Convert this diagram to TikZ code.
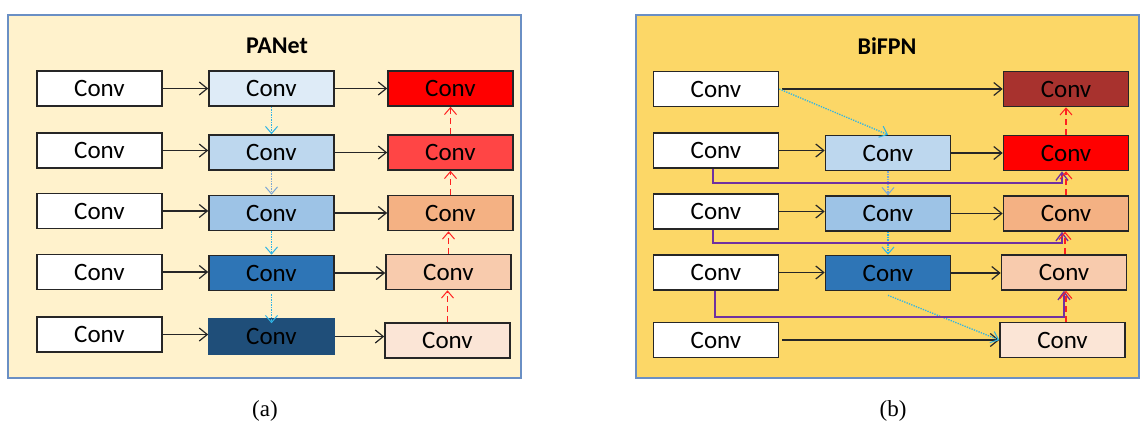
\documentclass[tikz,border=0pt]{standalone}
\usepackage{fontspec}
\setmainfont{Carlito}
\newfontfamily\capfont{Liberation Serif}
\usetikzlibrary{arrows.meta,calc}

\definecolor{frameblue}{HTML}{6A8FC4}
\definecolor{panbg}{HTML}{FFF2CC}
\definecolor{bifbg}{HTML}{FCD767}
\definecolor{edge}{HTML}{262626}
\definecolor{bA}{HTML}{DEEBF7}
\definecolor{bB}{HTML}{BDD7EE}
\definecolor{bC}{HTML}{9DC3E6}
\definecolor{bD}{HTML}{2E75B6}
\definecolor{bE}{HTML}{1F4E79}
\definecolor{rA}{HTML}{FF0000}
\definecolor{rB}{HTML}{FF4545}
\definecolor{rC}{HTML}{F4B183}
\definecolor{rD}{HTML}{F8CBAD}
\definecolor{rE}{HTML}{FBE5D6}
\definecolor{rTop}{HTML}{A8322E}
\definecolor{cyanline}{HTML}{2EB4E6}
\definecolor{greyblue}{HTML}{7DA8D4}
\definecolor{purp}{HTML}{7030A0}
\definecolor{dashred}{HTML}{FF2020}

\tikzset{
  convbox/.style={draw=edge, line width=1.6pt, minimum width=125pt, minimum height=35pt,
    inner sep=0pt, font=\fontsize{25}{30}\selectfont, text=black},
  tip/.style={-{Straight Barb[length=8pt,width=13pt,line width=1.2pt]}},
  flow/.style={tip, draw=edge, line width=1.5pt},
  down/.style={-{Straight Barb[length=7pt,width=12pt,line width=1pt]}, draw=cyanline,
    line width=1.3pt, dash pattern=on 1.3pt off 1.2pt},
  downgrey/.style={down, draw=greyblue},
  up/.style={-{Straight Barb[length=7pt,width=12pt,line width=1pt]}, draw=dashred,
    line width=1.4pt, dash pattern=on 6pt off 4pt},
  skip/.style={-{Straight Barb[length=8pt,width=12pt,line width=1.3pt]}, draw=purp,
    line width=1.6pt},
  panel/.style={draw=frameblue, line width=1.5pt},
  title/.style={font=\fontsize{24}{29}\selectfont\bfseries},
  caption/.style={font=\capfont\fontsize{23}{26}\selectfont}
}

\begin{document}
\begin{tikzpicture}[x=1pt,y=-1pt]
\useasboundingbox (0,0) rectangle (1140,424);

% ---------------- PANet ----------------
\draw[panel, fill=panbg] (8,15) rectangle (521,378);
\node[title] (ptitle) at (277,46) {PANet};

\node[convbox, fill=white] (p11) at (99.5,88.5) {Conv};
\node[convbox, fill=white] (p21) at (99.5,150.5) {Conv};
\node[convbox, fill=white] (p31) at (99.5,211) {Conv};
\node[convbox, fill=white] (p41) at (99.5,272) {Conv};
\node[convbox, fill=white] (p51) at (99.5,334.5) {Conv};

\node[convbox, fill=bA] (p12) at (271.5,88.5) {Conv};
\node[convbox, fill=bB] (p22) at (271.5,152.5) {Conv};
\node[convbox, fill=bC] (p32) at (271.5,213) {Conv};
\node[convbox, fill=bD] (p42) at (271.5,273) {Conv};
\node[convbox, fill=bE, draw=bE] (p52) at (271.5,336.5) {Conv};

\node[convbox, fill=rA] (p13) at (450.5,88.5) {Conv};
\node[convbox, fill=rB] (p23) at (450.5,152.5) {Conv};
\node[convbox, fill=rC] (p33) at (450.5,213) {Conv};
\node[convbox, fill=rD] (p43) at (448.5,272) {Conv};
\node[convbox, fill=rE] (p53) at (447.5,340.5) {Conv};

% lateral connections
\foreach \r in {1,...,5}{
  \draw[flow] (p\r1.east) -- (p\r1.east -| p\r2.west);
  \draw[flow] (p\r2.east) -- (p\r2.east -| p\r3.west);
}

% top-down path
\draw[down] (p12.south) -- (p22.north);
\draw[downgrey] (p22.south) -- (p32.north);
\draw[down] (p32.south) -- (p42.north);
\draw[down] ([yshift=-3pt]p42.south) -- ([yshift=-5pt]p52.north);

% bottom-up path
\draw[up] (p53.north) -- (p53.north |- p43.south);
\draw[up] (p43.north) -- (p43.north |- p33.south);
\draw[up] (p33.north) -- (p33.north |- p23.south);
\draw[up] (p23.north) -- (p23.north |- p13.south);

\node[caption] (capa) at (265,411) {(a)};

% ---------------- BiFPN ----------------
\draw[panel, fill=bifbg] (636,15) rectangle (1139,378);
\node[title] (btitle) at (887,46) {BiFPN};

\node[convbox, fill=white] (b11) at (716,89) {Conv};
\node[convbox, fill=white] (b21) at (716,150.5) {Conv};
\node[convbox, fill=white] (b31) at (716,211.5) {Conv};
\node[convbox, fill=white] (b41) at (716,272.5) {Conv};
\node[convbox, fill=white] (b51) at (716,340) {Conv};

\node[convbox, fill=bB] (b22) at (888,153) {Conv};
\node[convbox, fill=bC] (b32) at (888,213.5) {Conv};
\node[convbox, fill=bD] (b42) at (888,273) {Conv};

\node[convbox, fill=rTop] (b13) at (1066,89) {Conv};
\node[convbox, fill=rA] (b23) at (1066,153) {Conv};
\node[convbox, fill=rC] (b33) at (1066,213.5) {Conv};
\node[convbox, fill=rD] (b43) at (1064,272.5) {Conv};
\node[convbox, fill=rE] (b53) at (1062.5,340) {Conv};

% lateral connections
\draw[flow, shorten <=3pt] (b11.east) -- (b11.east -| b13.west);
\foreach \r in {2,3,4}{
  \draw[flow] (b\r1.east) -- (b\r1.east -| b\r2.west);
  \draw[flow] (b\r2.east) -- (b\r2.east -| b\r3.west);
}
\draw[flow, shorten <=3pt] (b51.east) -- (b51.east -| b53.west);

% top-down path
\draw[down] (b11.east) -- (b22.north);
\draw[downgrey] (b22.south) -- (b32.north);
\draw[down] (b32.south) -- (b42.north);
\draw[down] ([yshift=-4pt]b42.south) -- (b53.west);

% skip connections from the inputs
\draw[skip] ([xshift=-3pt]b21.south) -- ++(0,14) -| ([xshift=-4pt]b23.south);
\draw[skip] ([xshift=-3pt]b31.south) -- ++(0,13) -| ([xshift=-4pt]b33.south);
\draw[skip] ([xshift=-1pt]b41.south) -- ++(0,26) -| (b43.south);

% bottom-up path
\draw[up] (b53.north -| b43.south) ++(2,0) -- ([xshift=2pt]b43.south);
\draw[up] ([xshift=1pt]b43.north) -- ([xshift=1pt]b43.north |- b33.south);
\draw[up] (b33.north) -- (b33.north |- b23.south);
\draw[up] (b23.north) -- (b23.north |- b13.south);

\node[caption] (capb) at (893,411) {(b)};
\end{tikzpicture}
\end{document}
